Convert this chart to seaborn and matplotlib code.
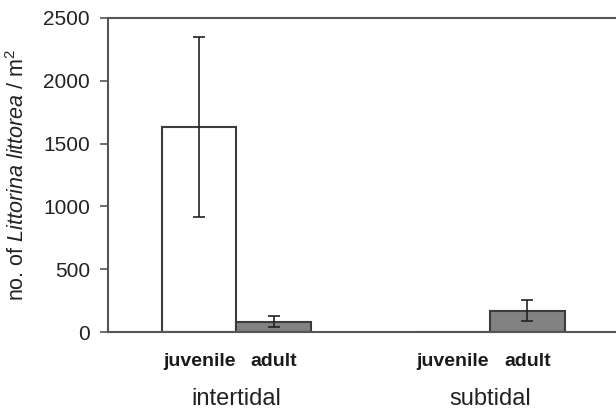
import matplotlib
matplotlib.use("Agg")
import matplotlib.pyplot as plt
import seaborn as sns
import pandas as pd

habitats = ["intertidal", "intertidal", "subtidal", "subtidal"]
stages = ["juvenile", "adult", "juvenile", "adult"]
means = [1634, 82, 0, 170]
sds = [716, 44, 0, 82]
yticks = [0, 500, 1000, 1500, 2000, 2500]

df = pd.DataFrame({"habitat": habitats, "stage": stages, "mean": means, "sd": sds})

sns.set_theme(style="white")
plt.rcParams["font.family"] = ["Liberation Sans", "DejaVu Sans"]
plt.rcParams["mathtext.fontset"] = "custom"
plt.rcParams["mathtext.rm"] = "Liberation Sans"
plt.rcParams["mathtext.it"] = "Liberation Sans:italic"

fig = plt.figure(figsize=(6.16, 4.12), dpi=100)
ax = fig.add_axes([108 / 616, 1 - 332 / 412, 1 - 108 / 616 + 0.01, (332 - 18) / 412])

hue_levels = ["juvenile", "adult"]
cats = ["intertidal", "subtidal"]

sns.barplot(data=df, x="habitat", y="mean", hue="stage",
            hue_order=hue_levels, order=cats,
            palette={"juvenile": "white", "adult": "#828282"},
            edgecolor="#3c3c3c", linewidth=1.5, width=0.588,
            errorbar=None, legend=False, ax=ax)

# patches are ordered by hue level then category
bars = list(ax.patches)
lookup = {}
i = 0
for st in hue_levels:
    for c in cats:
        lookup[(c, st)] = bars[i]
        i += 1

for _, row in df.iterrows():
    p = lookup[(row["habitat"], row["stage"])]
    xc = p.get_x() + p.get_width() / 2
    if row["sd"] > 0:
        ax.errorbar(xc, row["mean"], yerr=row["sd"], fmt="none",
                    ecolor="#222222", elinewidth=1.2, capsize=4.3, capthick=1.2)
    ax.text(xc, -0.108, row["stage"], transform=ax.get_xaxis_transform(),
            ha="center", va="baseline", fontsize=14, fontweight="bold", color="#1a1a1a")

ax.set_ylim(0, 2500)
ax.set_xlim(-0.506, 1.52)
ax.set_yticks(yticks)
ax.set_yticklabels([str(v) for v in yticks], fontsize=15, color="#222222")
ax.set_xticks([0, 1])
ax.set_xticklabels(cats, fontsize=17, color="#222222")
ax.tick_params(axis="x", length=0, pad=40)
ax.tick_params(axis="y", length=6, width=1.2, color="#555555", direction="out", left=True, pad=7)
ax.set_xlabel("")
ax.set_ylabel(r"no. of $\it{Littorina\ littorea}$ / m$^2$", fontsize=15.5, color="#222222", labelpad=10)

for s in ["left", "top", "bottom"]:
    ax.spines[s].set_color("#555555")
    ax.spines[s].set_linewidth(1.5)
ax.spines["right"].set_visible(False)

fig.savefig("out.png", dpi=100)
